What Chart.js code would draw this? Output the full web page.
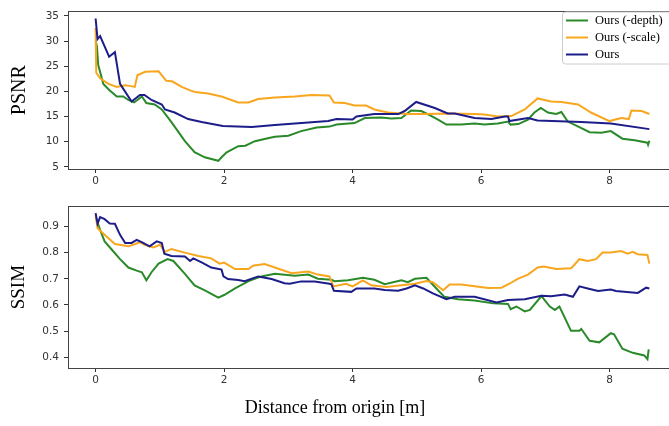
<!DOCTYPE html>
<html>
<head>
<meta charset="utf-8">
<script src="https://cdn.jsdelivr.net/npm/chart.js@4.4.1/dist/chart.umd.min.js"></script>
<style>
  html, body { margin: 0; padding: 0; background: #fff; overflow: hidden; }
  #wrap { position: relative; width: 669px; height: 426px; overflow: hidden; }
  canvas { position: absolute; left: 0; }
  #psnrChart { top: 0; }
  #ssimChart { top: 195px; }
</style>
</head>
<body>
<div id="wrap">
  <canvas id="psnrChart" width="680" height="195"></canvas>
  <canvas id="ssimChart" width="680" height="231"></canvas>
</div>
<script>
// Series names / colours (legend order)
const seriesNames = ["Ours (-depth)", "Ours (-scale)", "Ours"];
const seriesColors = ["#2a8a2a", "#f8a61e", "#1d1d8a"];

// Axis ticks and labels
const xTicks = [0, 2, 4, 6, 8];
const psnrTicks = [5, 10, 15, 20, 25, 30, 35];
const ssimTicks = [0.4, 0.5, 0.6, 0.7, 0.8, 0.9];
const xLabel = "Distance from origin [m]";

// PSNR - Ours (-depth)
const psnrDepthX = [0, 0.02, 0.04, 0.12, 0.22, 0.33, 0.43, 0.51, 0.60, 0.72, 0.79, 0.92, 1.03, 1.18, 1.39, 1.54, 1.70, 1.91, 1.96, 2.04, 2.22, 2.33, 2.48, 2.68, 2.79, 3.0, 3.2, 3.44, 3.64, 3.75, 4.03, 4.19, 4.45, 4.60, 4.76, 4.84, 4.91, 5.07, 5.17, 5.33, 5.46, 5.69, 5.90, 6.05, 6.26, 6.42, 6.46, 6.58, 6.73, 6.83, 6.93, 7.04, 7.17, 7.25, 7.35, 7.53, 7.69, 7.87, 8.02, 8.20, 8.39, 8.59, 8.60, 8.62];
const psnrDepthY = [30.0, 29.0, 25.3, 21.5, 20.2, 19.0, 19.0, 18.3, 17.8, 19.0, 17.7, 17.4, 16.4, 13.9, 10.1, 7.9, 6.9, 6.2, 6.9, 7.9, 9.1, 9.2, 10.1, 10.7, 11.0, 11.2, 12.1, 12.8, 13.0, 13.4, 13.7, 14.7, 14.8, 14.6, 14.7, 15.5, 16.2, 16.1, 15.5, 14.4, 13.4, 13.4, 13.6, 13.4, 13.6, 14.0, 13.4, 13.5, 14.4, 15.8, 16.7, 15.8, 15.5, 15.9, 14.0, 12.9, 11.9, 11.8, 12.1, 10.6, 10.3, 9.8, 9.4, 10.2];

// PSNR - Ours (-scale)
const psnrScaleX = [0, 0.01, 0.07, 0.20, 0.33, 0.46, 0.53, 0.61, 0.65, 0.77, 0.98, 1.10, 1.19, 1.34, 1.49, 1.55, 1.75, 1.96, 2.22, 2.38, 2.53, 2.79, 3.1, 3.36, 3.64, 3.71, 3.88, 4.03, 4.21, 4.34, 4.55, 4.86, 5.12, 5.48, 5.90, 6.05, 6.26, 6.47, 6.68, 6.88, 7.09, 7.25, 7.51, 7.71, 8.0, 8.18, 8.30, 8.34, 8.50, 8.62];
const psnrScaleY = [32.6, 23.7, 22.6, 21.5, 20.9, 21.2, 21.1, 20.9, 23.2, 23.9, 24.0, 22.1, 22.0, 20.9, 20.1, 19.9, 19.6, 19.0, 17.8, 17.8, 18.5, 18.8, 19.0, 19.3, 19.2, 17.8, 17.7, 17.2, 17.2, 16.4, 15.8, 15.5, 15.5, 15.6, 15.5, 15.4, 15.0, 15.1, 16.4, 18.6, 18.0, 17.9, 17.4, 15.8, 14.1, 14.7, 14.5, 16.2, 16.1, 15.5];

// PSNR - Ours
const psnrOursX = [0, 0.03, 0.07, 0.21, 0.30, 0.38, 0.56, 0.69, 0.76, 0.87, 1.03, 1.08, 1.23, 1.44, 1.65, 1.98, 2.43, 2.79, 3.62, 3.75, 4.0, 4.06, 4.34, 4.71, 4.81, 4.99, 5.28, 5.48, 5.59, 5.90, 6.16, 6.37, 6.42, 6.44, 6.73, 6.88, 7.56, 8.02, 8.62];
const psnrOursY = [34.5, 30.4, 31.0, 26.9, 27.8, 21.5, 18.0, 19.3, 19.3, 18.3, 17.4, 16.4, 15.8, 14.5, 13.9, 13.1, 12.9, 13.3, 14.1, 14.5, 14.4, 15.0, 15.5, 15.5, 16.1, 17.9, 16.7, 15.6, 15.6, 14.7, 14.5, 15.0, 15.0, 14.1, 14.7, 14.2, 13.9, 13.6, 12.5];

// SSIM - Ours (-depth)
const ssimDepthX = [0, 0.07, 0.14, 0.25, 0.38, 0.51, 0.64, 0.72, 0.79, 0.87, 0.98, 1.12, 1.21, 1.39, 1.54, 1.70, 1.91, 2.0, 2.17, 2.38, 2.58, 2.79, 3.1, 3.31, 3.46, 3.67, 3.72, 3.93, 4.16, 4.34, 4.5, 4.76, 4.86, 4.97, 5.15, 5.33, 5.43, 5.64, 5.90, 6.19, 6.42, 6.46, 6.55, 6.68, 6.76, 6.94, 7.07, 7.15, 7.22, 7.40, 7.53, 7.56, 7.69, 7.84, 8.02, 8.07, 8.20, 8.36, 8.54, 8.59, 8.61];
const ssimDepthY = [0.936, 0.887, 0.843, 0.812, 0.775, 0.743, 0.731, 0.725, 0.694, 0.725, 0.758, 0.775, 0.768, 0.719, 0.675, 0.656, 0.628, 0.638, 0.663, 0.691, 0.709, 0.719, 0.712, 0.716, 0.700, 0.696, 0.691, 0.694, 0.704, 0.696, 0.679, 0.694, 0.687, 0.700, 0.704, 0.656, 0.631, 0.622, 0.617, 0.606, 0.604, 0.584, 0.594, 0.575, 0.581, 0.634, 0.594, 0.581, 0.594, 0.501, 0.501, 0.508, 0.463, 0.457, 0.492, 0.488, 0.433, 0.417, 0.407, 0.393, 0.430];

// SSIM - Ours (-scale)
const ssimScaleX = [0, 0.03, 0.14, 0.30, 0.51, 0.62, 0.69, 0.76, 0.90, 1.0, 1.08, 1.18, 1.39, 1.60, 1.80, 1.93, 2.0, 2.17, 2.38, 2.45, 2.63, 2.79, 3.05, 3.31, 3.46, 3.64, 3.70, 3.90, 4.0, 4.16, 4.29, 4.53, 4.76, 4.97, 5.15, 5.25, 5.41, 5.51, 5.69, 5.90, 6.11, 6.32, 6.44, 6.57, 6.73, 6.88, 6.98, 7.17, 7.40, 7.44, 7.53, 7.66, 7.79, 7.89, 8.02, 8.18, 8.28, 8.36, 8.44, 8.59, 8.62];
const ssimScaleY = [0.943, 0.893, 0.868, 0.833, 0.824, 0.833, 0.840, 0.830, 0.820, 0.830, 0.803, 0.814, 0.800, 0.787, 0.778, 0.758, 0.762, 0.737, 0.737, 0.750, 0.756, 0.743, 0.721, 0.728, 0.716, 0.709, 0.671, 0.681, 0.671, 0.694, 0.675, 0.669, 0.675, 0.681, 0.691, 0.687, 0.656, 0.678, 0.678, 0.671, 0.665, 0.666, 0.681, 0.700, 0.716, 0.743, 0.747, 0.737, 0.740, 0.750, 0.775, 0.768, 0.775, 0.800, 0.800, 0.806, 0.796, 0.803, 0.794, 0.791, 0.758];

// SSIM - Ours
const ssimOursX = [0, 0.03, 0.07, 0.14, 0.22, 0.30, 0.38, 0.46, 0.56, 0.64, 0.74, 0.84, 0.95, 1.03, 1.07, 1.18, 1.39, 1.47, 1.52, 1.65, 1.80, 1.96, 1.99, 2.06, 2.22, 2.32, 2.53, 2.74, 2.94, 3.02, 3.2, 3.41, 3.64, 3.67, 3.71, 3.98, 4.06, 4.34, 4.5, 4.71, 4.84, 4.97, 5.1, 5.25, 5.46, 5.59, 5.90, 6.24, 6.42, 6.68, 6.94, 7.09, 7.30, 7.43, 7.53, 7.66, 7.82, 8.02, 8.10, 8.44, 8.57, 8.62];
const ssimOursY = [0.951, 0.911, 0.936, 0.928, 0.911, 0.910, 0.868, 0.837, 0.837, 0.849, 0.837, 0.824, 0.843, 0.837, 0.796, 0.787, 0.785, 0.768, 0.778, 0.763, 0.743, 0.735, 0.709, 0.699, 0.695, 0.691, 0.709, 0.699, 0.683, 0.681, 0.690, 0.690, 0.681, 0.679, 0.654, 0.650, 0.663, 0.663, 0.657, 0.654, 0.663, 0.675, 0.663, 0.644, 0.622, 0.631, 0.631, 0.609, 0.619, 0.622, 0.635, 0.633, 0.640, 0.631, 0.671, 0.663, 0.653, 0.659, 0.653, 0.646, 0.666, 0.663];

// Pair up x / y arrays into points
function toPoints(xs, ys) {
    const n = Math.min(xs.length, ys.length);
    const pts = [];
    for (let i = 0; i < n; i++) pts.push({ x: xs[i], y: ys[i] });
    return pts;
}

function makeDatasets(pairs) {
    return pairs.map(([xs, ys], i) => ({
        label: seriesNames[i],
        data: toPoints(xs, ys),
        borderColor: seriesColors[i],
        backgroundColor: seriesColors[i],
        borderWidth: 2,
        pointRadius: 0,
        tension: 0,
        fill: false,
        order: 3 - i // "Ours" drawn on top
    }));
}

const tickFont = { family: "DejaVu Sans", size: 10.5 };
const axisColor = "#333";

// Box around the plot area (all four spines)
const framePlugin = {
    id: "frame",
    afterDraw(chart) {
        const { ctx, chartArea: a } = chart;
        ctx.save();
        ctx.strokeStyle = "#444";
        ctx.lineWidth = 1;
        ctx.strokeRect(Math.round(a.left) + 0.5, Math.round(a.top) + 0.5,
            Math.round(a.right - a.left), Math.round(a.bottom - a.top));
        ctx.restore();
    }
};

// Matplotlib-like legend box
const boxLegendPlugin = {
    id: "boxLegend",
    afterDraw(chart, args, opts) {
        const { ctx } = chart;
        ctx.save();
        ctx.beginPath();
        if (ctx.roundRect) ctx.roundRect(opts.x + 0.5, opts.y + 0.5, opts.w, opts.h, 3);
        else ctx.rect(opts.x + 0.5, opts.y + 0.5, opts.w, opts.h);
        ctx.fillStyle = "rgba(255,255,255,0.85)";
        ctx.fill();
        ctx.strokeStyle = "#cccccc";
        ctx.lineWidth = 1;
        ctx.stroke();
        ctx.font = '12.5px "Liberation Serif"';
        ctx.textBaseline = "middle";
        ctx.textAlign = "left";
        chart.data.datasets.forEach((ds, i) => {
            const y = opts.y + 9 + i * 17;
            ctx.strokeStyle = ds.borderColor;
            ctx.lineWidth = 2;
            ctx.beginPath();
            ctx.moveTo(opts.x + 4, y);
            ctx.lineTo(opts.x + 26, y);
            ctx.stroke();
            ctx.fillStyle = "#000";
            ctx.fillText(ds.label, opts.x + 33, y);
        });
        ctx.restore();
    }
};

// Figure-level x label (centered on the figure, not on the axes)
const xLabelPlugin = {
    id: "xLabel",
    afterDraw(chart, args, opts) {
        if (!opts.text) return;
        const { ctx } = chart;
        ctx.save();
        ctx.font = '18px "Liberation Serif"';
        ctx.fillStyle = "#000";
        ctx.textAlign = "center";
        ctx.textBaseline = "middle";
        ctx.fillText(opts.text, opts.x, opts.y);
        ctx.restore();
    }
};

function buildChart(canvasId, datasets, cfg) {
    return new Chart(document.getElementById(canvasId), {
        type: "line",
        data: { datasets: datasets },
        plugins: [framePlugin, boxLegendPlugin, xLabelPlugin],
        options: {
            responsive: false,
            animation: false,
            devicePixelRatio: 1,
            layout: { padding: { top: cfg.padTop, right: 3, left: 0, bottom: 0 } },
            plugins: {
                legend: { display: false },
                tooltip: { enabled: false },
                boxLegend: cfg.legend,
                xLabel: cfg.xLabel || {}
            },
            scales: {
                x: {
                    type: "linear",
                    min: -0.43,
                    max: 9.05,
                    afterBuildTicks: s => { s.ticks = xTicks.map(v => ({ value: v })); },
                    afterFit: s => { s.height = cfg.xAxisHeight; },
                    border: { display: false },
                    grid: { display: true, drawOnChartArea: false, drawTicks: true, tickLength: 4, color: axisColor },
                    ticks: { font: tickFont, color: axisColor, padding: 2, maxRotation: 0, autoSkip: false,
                        callback: v => String(v) }
                },
                y: {
                    type: "linear",
                    min: cfg.yMin,
                    max: cfg.yMax,
                    afterBuildTicks: s => { s.ticks = cfg.yTicks.map(v => ({ value: v })); },
                    afterFit: s => { s.width = 68; },
                    border: { display: false },
                    grid: { display: true, drawOnChartArea: false, drawTicks: true, tickLength: 4, color: axisColor },
                    ticks: { font: tickFont, color: axisColor, padding: 5, autoSkip: false,
                        callback: cfg.yFormat },
                    title: {
                        display: true,
                        text: cfg.yTitle,
                        color: "#000",
                        font: { family: "Liberation Serif", size: cfg.yTitleSize },
                        padding: { top: 8, bottom: 0 }
                    }
                }
            }
        }
    });
}

// Top panel: PSNR
buildChart("psnrChart",
    makeDatasets([[psnrDepthX, psnrDepthY], [psnrScaleX, psnrScaleY], [psnrOursX, psnrOursY]]),
    {
        padTop: 4, xAxisHeight: 26,
        yMin: 4.57, yMax: 35.93, yTicks: psnrTicks, yFormat: v => String(v),
        yTitle: "PSNR", yTitleSize: 20,
        legend: { x: 562, y: 11.5, w: 109, h: 52 }
    });

// Bottom panel: SSIM
buildChart("ssimChart",
    makeDatasets([[ssimDepthX, ssimDepthY], [ssimScaleX, ssimScaleY], [ssimOursX, ssimOursY]]),
    {
        padTop: 7, xAxisHeight: 58,
        yMin: 0.359, yMax: 0.977, yTicks: ssimTicks, yFormat: v => v.toFixed(1),
        yTitle: "SSIM", yTitleSize: 19,
        legend: { x: 72.5, y: 309, w: 112.5, h: 52.5 },
        xLabel: { text: xLabel, x: 335, y: 213 }
    });
</script>
</body>
</html>
